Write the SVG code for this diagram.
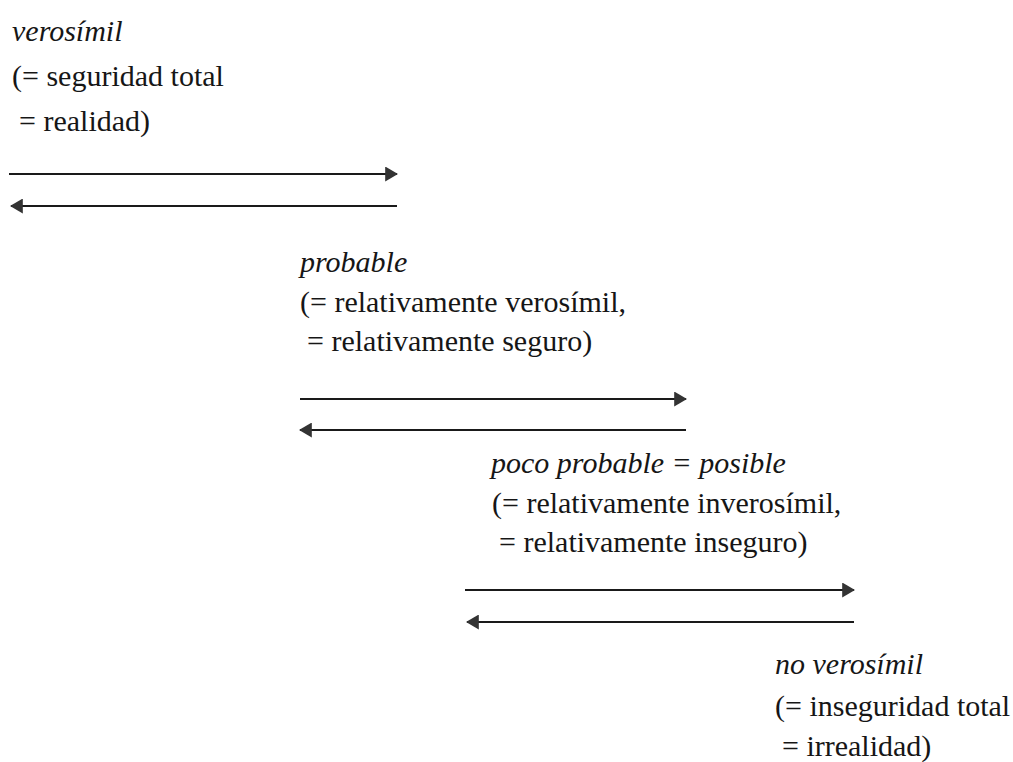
<svg xmlns="http://www.w3.org/2000/svg" width="1013" height="762" viewBox="0 0 1013 762">
  <style>
    .arr { stroke: #1a1a1a; stroke-width: 2; fill: none; }
  </style>
  <defs>
    <marker id="head" viewBox="0 0 12 14" refX="11" refY="7" markerWidth="13" markerHeight="15" markerUnits="userSpaceOnUse" orient="auto-start-reverse">
      <path d="M0,0 L12,7 L0,14 Z" fill="#333333"/>
    </marker>
  </defs>
  <rect width="1013" height="762" fill="#ffffff"/>

  <!-- four degrees of likelihood, stepping down to the right -->
  <g font-family="Liberation Serif, serif" font-size="30" fill="#161616">
    <g id="verosimil">
      <text font-style="italic" x="12" y="41">verosímil</text>
      <text x="12" y="86">(= seguridad total</text>
      <text x="19" y="131">= realidad)</text>
    </g>

    <g id="probable">
      <text font-style="italic" x="300" y="272">probable</text>
      <text x="300" y="312">(= relativamente verosímil,</text>
      <text x="307" y="351">= relativamente seguro)</text>
    </g>

    <g id="poco-probable">
      <text font-style="italic" x="491" y="473">poco probable = posible</text>
      <text x="492" y="513">(= relativamente inverosímil,</text>
      <text x="499" y="552">= relativamente inseguro)</text>
    </g>

    <g id="no-verosimil">
      <text font-style="italic" x="775" y="674">no verosímil</text>
      <text x="775" y="716">(= inseguridad total</text>
      <text x="782" y="756">= irrealidad)</text>
    </g>
  </g>

  <!-- paired arrows between neighbouring degrees -->
  <g id="connectors">
    <line class="arr" x1="9" y1="174" x2="397" y2="174" marker-end="url(#head)"/>
    <line class="arr" x1="397" y1="206" x2="11" y2="206" marker-end="url(#head)"/>
    <line class="arr" x1="300" y1="399" x2="686" y2="399" marker-end="url(#head)"/>
    <line class="arr" x1="686" y1="430" x2="300" y2="430" marker-end="url(#head)"/>
    <line class="arr" x1="465" y1="590" x2="854" y2="590" marker-end="url(#head)"/>
    <line class="arr" x1="854" y1="622" x2="467" y2="622" marker-end="url(#head)"/>
  </g>
</svg>
